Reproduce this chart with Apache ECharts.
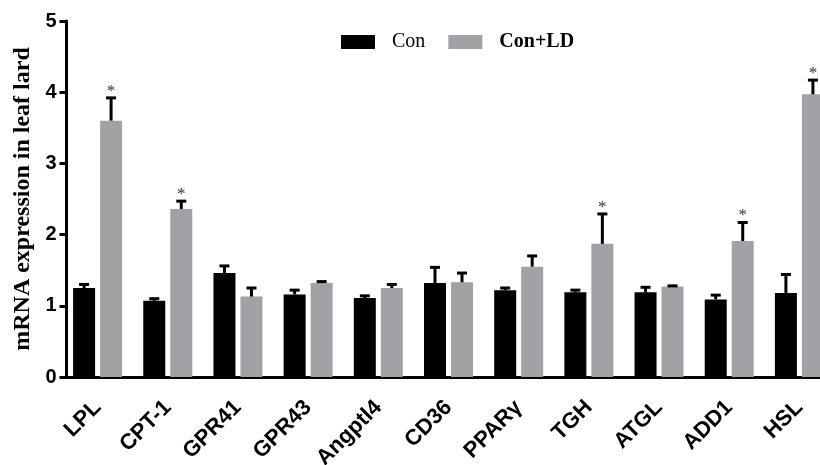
<!DOCTYPE html>
<html>
<head>
<meta charset="utf-8">
<script src="https://cdn.jsdelivr.net/npm/echarts@6/dist/echarts.min.js"></script>
<style>html,body{margin:0;padding:0;background:#fff}#c{width:820px;height:465px}</style>
</head>
<body>
<div id="c"></div>
<script>
const categories = ['LPL','CPT-1','GPR41','GPR43','Angptl4','CD36','PPARγ','TGH','ATGL','ADD1','HSL'];
const conValues = [1.25, 1.07, 1.46, 1.16, 1.11, 1.32, 1.22, 1.19, 1.19, 1.09, 1.18];
const conErrors = [0.05, 0.03, 0.10, 0.06, 0.03, 0.22, 0.03, 0.03, 0.07, 0.06, 0.26];
const ldValues  = [3.60, 2.36, 1.13, 1.32, 1.25, 1.33, 1.55, 1.87, 1.27, 1.91, 3.97];
const ldErrors  = [0.32, 0.11, 0.12, 0.02, 0.05, 0.13, 0.15, 0.42, 0.01, 0.26, 0.20];
const ldSignificant = [1, 1, 0, 0, 0, 0, 0, 1, 0, 1, 1];
const yTicks = [0, 1, 2, 3, 4, 5];

const BAR_W = 22, BAR_GAP_PX = 5;
const chart = echarts.init(document.getElementById('c'));

function errSeries(name, vals, errs, sig, side) {
  return {
    type: 'custom',
    name: name + ' err',
    z: 5,
    data: vals.map((v, i) => [i, v, errs[i], sig ? sig[i] : 0]),
    renderItem: function (params, api) {
      const i = api.value(0), v = api.value(1), e = api.value(2), s = api.value(3);
      const base = api.coord([i, v]);
      const top = api.coord([i, v + e]);
      const off = side * (BAR_W + BAR_GAP_PX) / 2;
      const x = base[0] + off;
      const children = [
        {type: 'line', shape: {x1: x, y1: base[1], x2: x, y2: top[1]}, style: {stroke: '#000', lineWidth: 3}},
        {type: 'line', shape: {x1: x - 5, y1: top[1], x2: x + 5, y2: top[1]}, style: {stroke: '#000', lineWidth: 3}}
      ];
      if (s) {
        children.push({type: 'text', style: {text: '*', x: x, y: top[1] + 2, textAlign: 'center', textVerticalAlign: 'bottom', fontSize: 17, fontFamily: 'Liberation Serif', fill: '#333'}});
      }
      return {type: 'group', children: children};
    }
  };
}

chart.setOption({
  animation: false,
  backgroundColor: '#fff',
  grid: {left: 62.5, top: 21, width: 772, height: 356, containLabel: false, outerBoundsMode: 'none'},
  legend: {
    left: 341, top: 32, padding: 0, itemWidth: 34, itemHeight: 14, itemGap: 23, icon: 'rect',
    textStyle: {fontFamily: 'Liberation Serif', fontSize: 20, color: '#000', padding: [0, 0, 0, 12]},
    data: [
      {name: 'Con', textStyle: {fontWeight: 'normal'}},
      {name: 'Con+LD', textStyle: {fontWeight: 'bold'}}
    ]
  },
  xAxis: {
    type: 'category',
    data: categories,
    axisLine: {lineStyle: {color: '#000', width: 3}},
    axisTick: {alignWithLabel: true, length: 8, lineStyle: {color: '#000', width: 3}},
    axisLabel: {rotate: 45, margin: 27, padding: [14, 0, 0, 0], color: '#000', fontFamily: 'Liberation Sans', fontWeight: 'bold', fontSize: 22, interval: 0}
  },
  yAxis: {
    type: 'value',
    min: 0, max: 5, interval: 1,
    offset: -4,
    name: 'mRNA expression in leaf lard',
    nameLocation: 'middle', nameRotate: 90, nameGap: 30,
    nameTextStyle: {fontFamily: 'Liberation Serif', fontWeight: 'bold', fontSize: 24, color: '#000'},
    splitLine: {show: false},
    axisLine: {show: true, lineStyle: {color: '#000', width: 3}},
    axisTick: {show: true, length: 7, lineStyle: {color: '#000', width: 3}},
    axisLabel: {margin: 10, color: '#000', fontFamily: 'Liberation Sans', fontWeight: 'bold', fontSize: 20,
      formatter: v => yTicks.includes(v) ? String(v) : ''}
  },
  series: [
    {name: 'Con', type: 'bar', data: conValues, barWidth: BAR_W, barGap: (BAR_GAP_PX / BAR_W * 100) + '%', itemStyle: {color: '#000'}},
    {name: 'Con+LD', type: 'bar', data: ldValues, barWidth: BAR_W, itemStyle: {color: '#a2a2a6'}},
    errSeries('Con', conValues, conErrors, null, -1),
    errSeries('Con+LD', ldValues, ldErrors, ldSignificant, 1)
  ]
});
</script>
</body>
</html>
